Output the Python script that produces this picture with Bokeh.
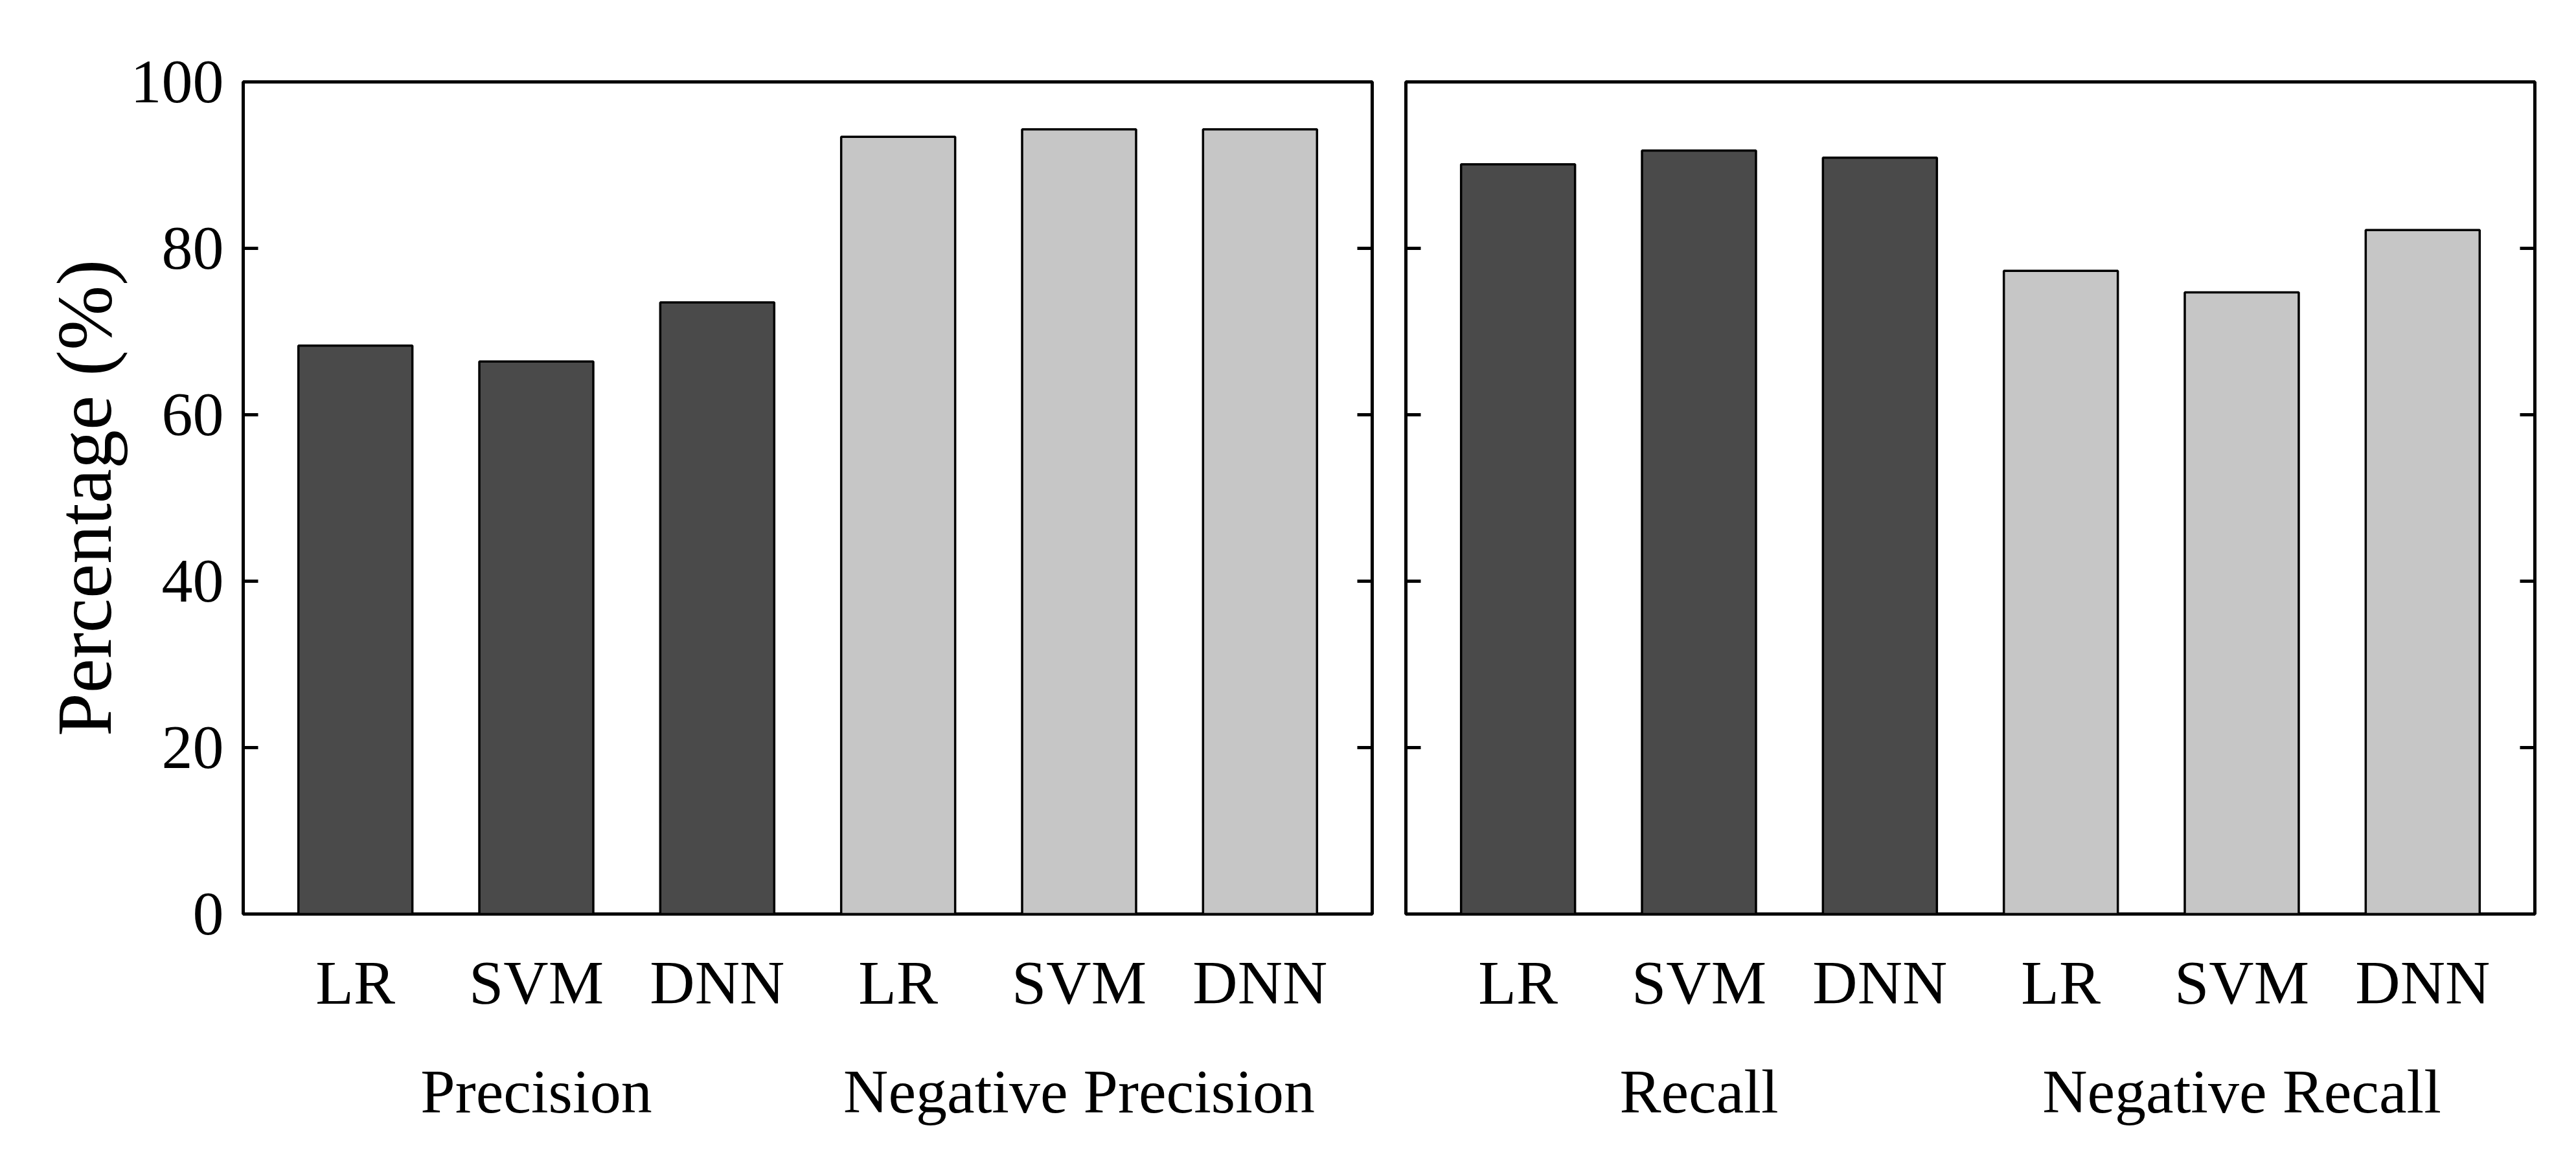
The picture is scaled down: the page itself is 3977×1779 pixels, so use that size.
from bokeh.plotting import figure
from bokeh.models import Range1d, LinearAxis, FixedTicker, CustomJSTickFormatter, ColumnDataSource
from bokeh.layouts import row
from bokeh.embed import file_html
from bokeh.resources import INLINE

# ---- data ----
models = ["LR", "SVM", "DNN"]
left_groups = ["Precision", "Negative Precision"]
right_groups = ["Recall", "Negative Recall"]
precision = [68.3, 66.4, 73.5]
neg_precision = [93.4, 94.3, 94.3]
recall = [90.1, 91.75, 90.9]
neg_recall = [77.3, 74.7, 82.2]
y_ticks = [0, 20, 40, 60, 80, 100]

DARK = "#4a4a4a"
LIGHT = "#c6c6c6"
FONT = "Liberation Serif"
TICK_FS = "96px"


def blank_axis(p, side):
    ax = LinearAxis(ticker=FixedTicker(ticks=y_ticks),
                    formatter=CustomJSTickFormatter(code="return ''"))
    ax.axis_line_color = None
    ax.major_tick_in = 23
    ax.major_tick_out = 0
    ax.major_tick_line_width = 5
    ax.major_tick_line_color = "black"
    ax.minor_tick_line_color = None
    ax.major_label_standoff = 0
    ax.major_label_text_font_size = "1px"
    p.add_layout(ax, side)


def make_panel(groups, s1, s2, min_top, min_bottom, min_left, min_right, labelled):
    p = figure(frame_width=1743, frame_height=1285,
               x_range=Range1d(0.38, 6.62), y_range=Range1d(0, 100),
               x_axis_location=None, y_axis_location=None,
               output_backend="svg", toolbar_location=None,
               min_border_top=min_top, min_border_bottom=min_bottom,
               min_border_left=min_left, min_border_right=min_right)
    p.grid.visible = False
    p.outline_line_color = "black"
    p.outline_line_width = 5
    p.background_fill_color = "white"
    p.border_fill_color = "white"

    names = models + models
    xs = [i + 1 for i in range(len(names))]
    tops = list(s1) + list(s2)
    colors = [DARK] * len(s1) + [LIGHT] * len(s2)
    src = ColumnDataSource(dict(x=xs, top=tops, color=colors, name=names))
    p.vbar(x="x", top="top", bottom=0, width=0.63, source=src,
           fill_color="color", line_color="black", line_width=3.5)

    # model labels
    ax1 = LinearAxis(ticker=FixedTicker(ticks=xs),
                     major_label_overrides={x: n for x, n in zip(xs, names)})
    ax1.axis_line_color = None
    ax1.major_tick_line_color = None
    ax1.minor_tick_line_color = None
    ax1.major_tick_in = 0
    ax1.major_tick_out = 0
    ax1.major_label_standoff = 52
    ax1.major_label_text_font = FONT
    ax1.major_label_text_font_size = TICK_FS
    ax1.major_label_text_color = "black"
    p.add_layout(ax1, "below")

    # group labels
    gx = [2, 5]
    ax2 = LinearAxis(ticker=FixedTicker(ticks=gx),
                     major_label_overrides={x: g for x, g in zip(gx, groups)})
    ax2.axis_line_color = None
    ax2.major_tick_line_color = None
    ax2.minor_tick_line_color = None
    ax2.major_tick_in = 0
    ax2.major_tick_out = 0
    ax2.major_label_standoff = 58
    ax2.major_label_text_font = FONT
    ax2.major_label_text_font_size = TICK_FS
    ax2.major_label_text_color = "black"
    p.add_layout(ax2, "below")

    if labelled:
        ay = LinearAxis(ticker=FixedTicker(ticks=y_ticks), axis_label="Percentage (%)")
        ay.axis_line_color = None
        ay.major_tick_in = 23
        ay.major_tick_out = 0
        ay.major_tick_line_width = 5
        ay.major_tick_line_color = "black"
        ay.minor_tick_line_color = None
        ay.major_label_standoff = 30
        ay.major_label_text_font = FONT
        ay.major_label_text_font_size = TICK_FS
        ay.major_label_text_color = "black"
        ay.axis_label_text_font = FONT
        ay.axis_label_text_font_size = "120px"
        ay.axis_label_text_font_style = "normal"
        ay.axis_label_text_color = "black"
        ay.axis_label_standoff = 2
        p.add_layout(ay, "left")
    else:
        blank_axis(p, "left")
    blank_axis(p, "right")
    return p


p1 = make_panel(left_groups, precision, neg_precision, 126, 352, 375, 26, True)
p2 = make_panel(right_groups, recall, neg_recall, 123, 355, 26, 40, False)

layout = row(p1, p2)
open("out.html", "w").write(file_html(layout, INLINE))
